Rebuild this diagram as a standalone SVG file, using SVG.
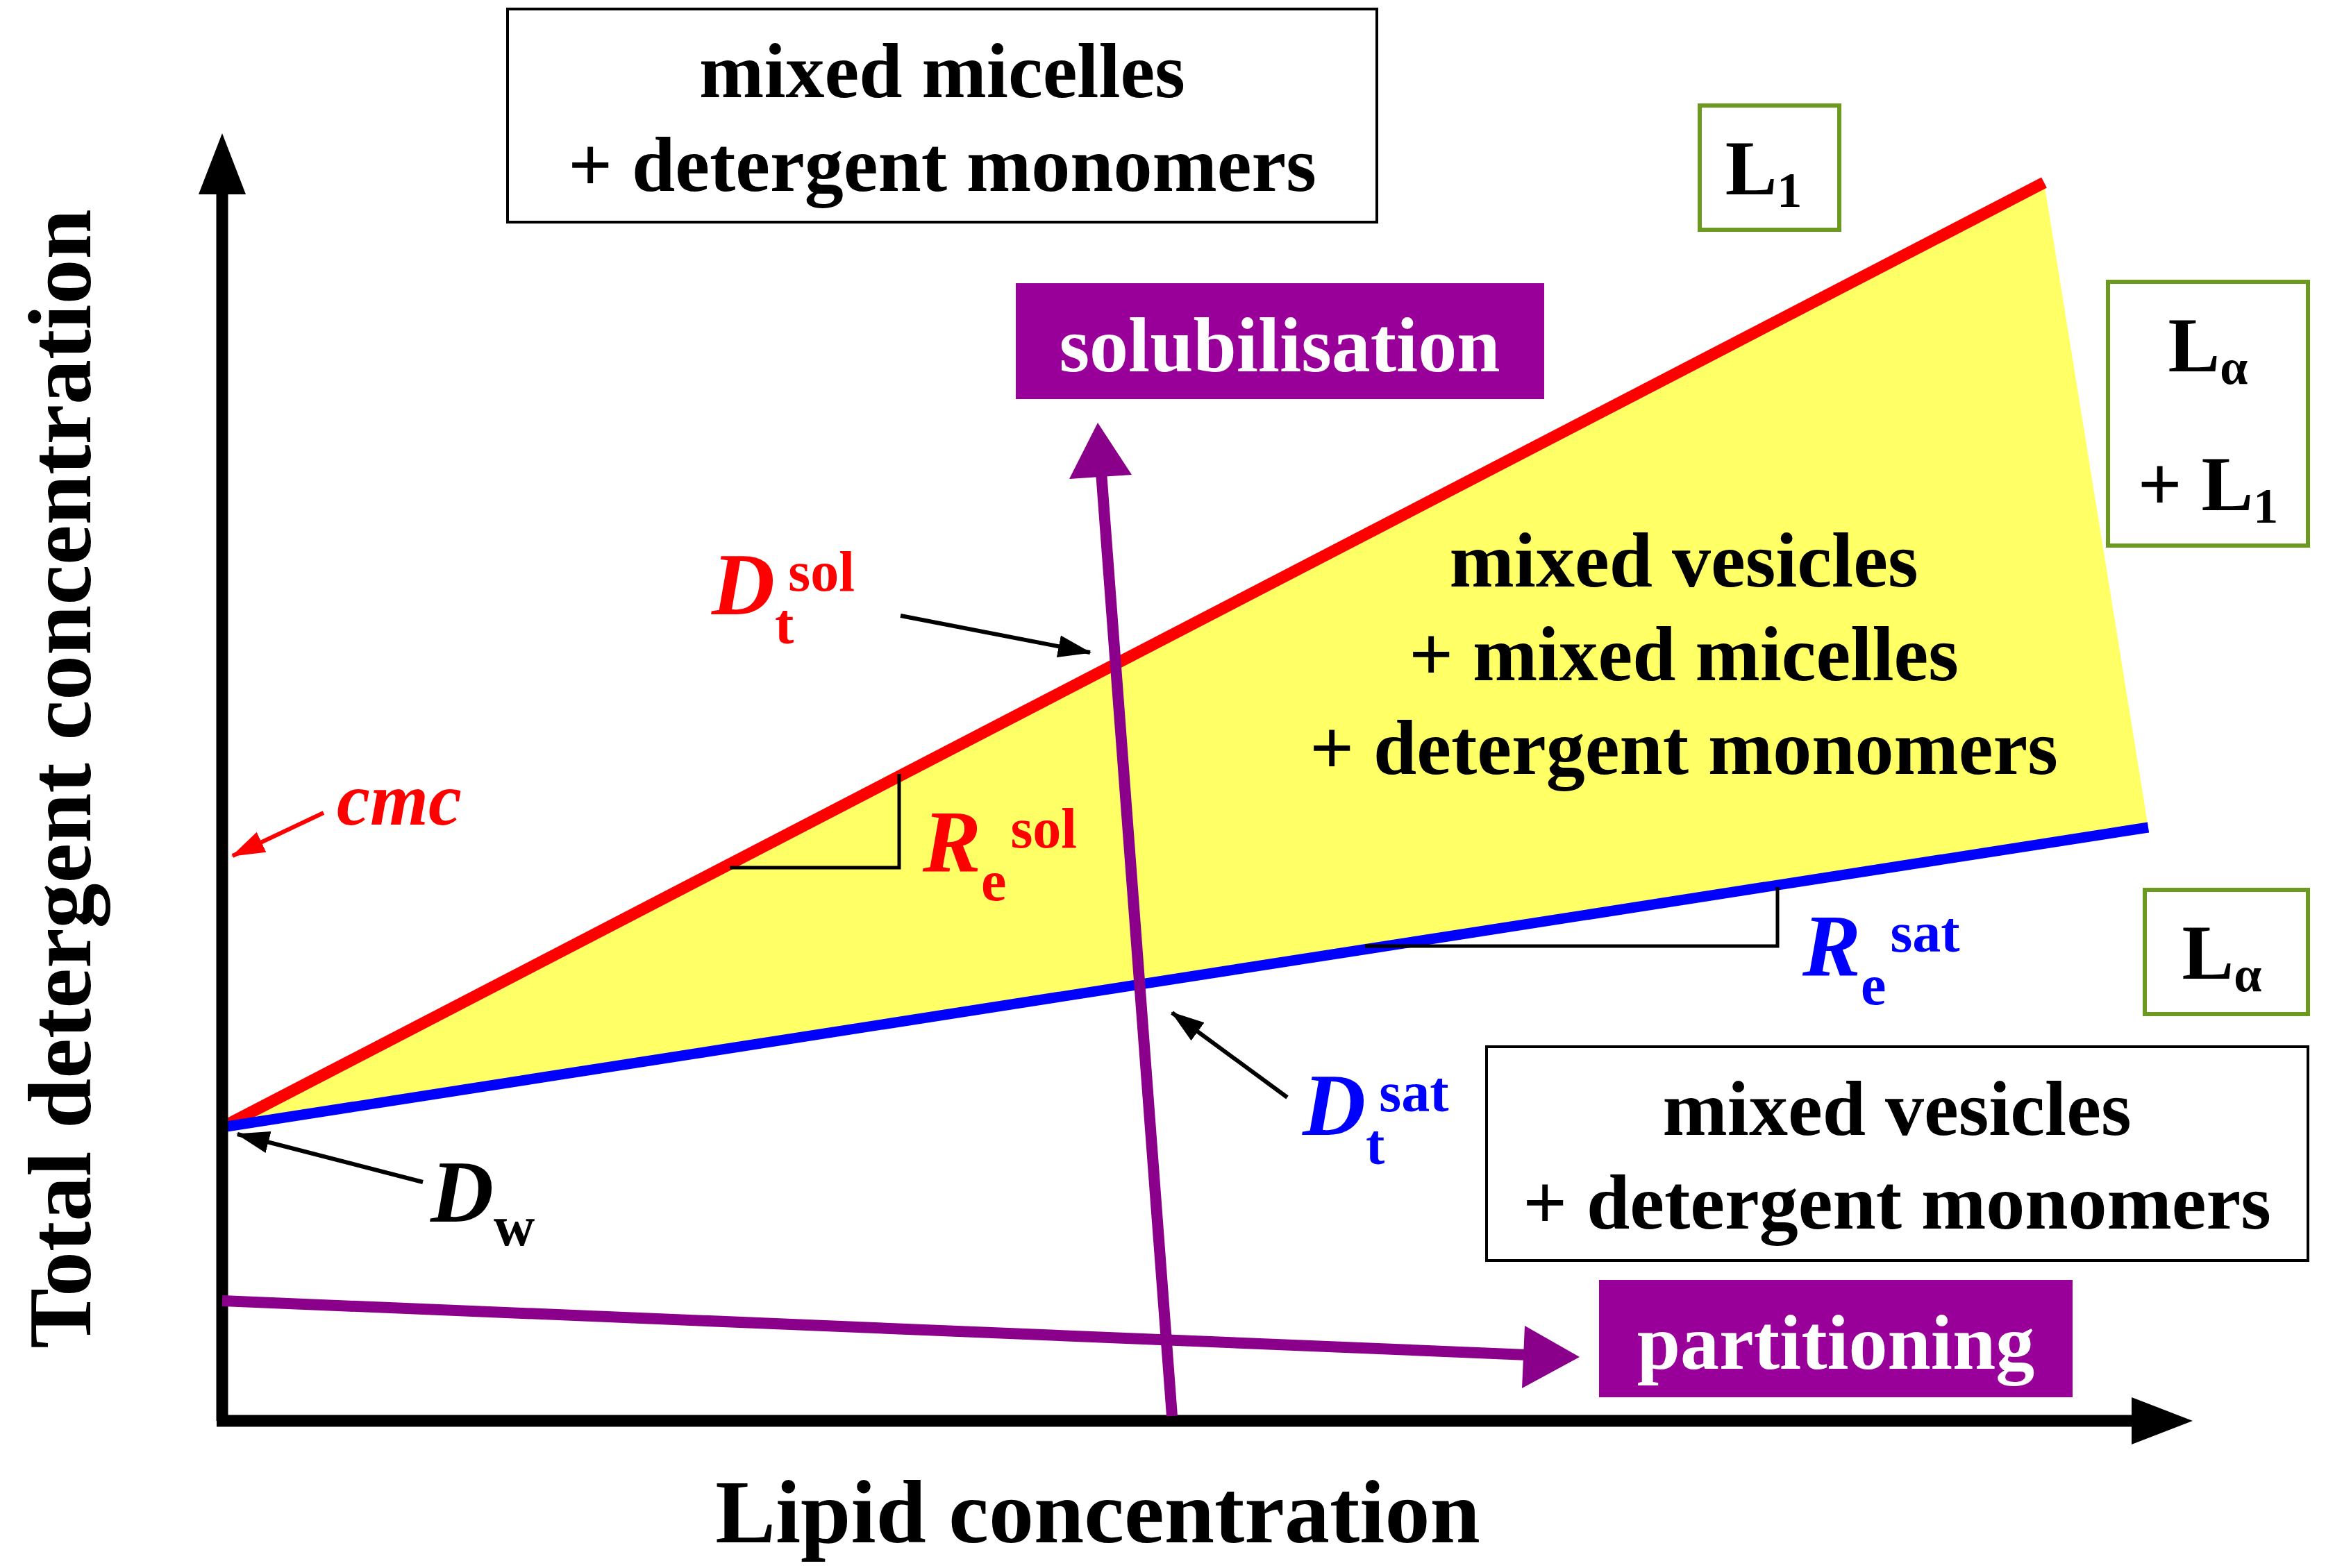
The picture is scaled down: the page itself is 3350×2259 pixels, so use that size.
<svg xmlns="http://www.w3.org/2000/svg" width="3350" height="2259" viewBox="0 0 3350 2259">
<style>
text{font-family:"Liberation Serif","Times New Roman",serif;font-weight:bold}
.t{font-size:112px;fill:#000}
.box{fill:#fff;stroke:#000;stroke-width:4}
.gbox{fill:#fff;stroke:#6b9a1f;stroke-width:6}
.pbox{fill:#990099}
.w{fill:#fff;font-size:112px}
.it{font-style:italic}
</style>
<defs>
<marker id="ah" markerUnits="userSpaceOnUse" markerWidth="50" markerHeight="40" refX="46" refY="20" orient="auto"><path d="M0,4 L48,20 L0,36 Z" fill="#000"/></marker>
<marker id="ahr" markerUnits="userSpaceOnUse" markerWidth="50" markerHeight="40" refX="46" refY="20" orient="auto"><path d="M0,4 L48,20 L0,36 Z" fill="#f00"/></marker>
</defs>
<rect width="3350" height="2259" fill="#fff"/>
<polygon points="320,1624 2944,263 3094,1192" fill="#ffff66"/>
<g id="connectors">
<line x1="320" y1="1624" x2="2944" y2="263" stroke="#f00" stroke-width="17"/>
<line x1="320" y1="1624" x2="3094" y2="1192" stroke="#00f" stroke-width="15"/>
<polyline points="1051,1250 1295,1250 1295,1115" fill="none" stroke="#000" stroke-width="5"/>
<polyline points="1966,1363 2560,1363 2560,1278" fill="none" stroke="#000" stroke-width="5"/>
<line x1="320" y1="2047" x2="320" y2="270" stroke="#000" stroke-width="17"/>
<polygon points="320,192 286,280 354,280" fill="#000"/>
<line x1="312" y1="2047" x2="3080" y2="2047" stroke="#000" stroke-width="17"/>
<polygon points="3158,2047 3070,2013 3070,2081" fill="#000"/>
<line x1="1688" y1="2040" x2="1586" y2="680" stroke="#8b008b" stroke-width="16"/>
<polygon points="1581,609 1540,690 1630,684" fill="#8b008b"/>
<line x1="320" y1="1874" x2="2200" y2="1952" stroke="#8b008b" stroke-width="16"/>
<polygon points="2275,1955 2196,1910 2192,2000" fill="#8b008b"/>
<line x1="1297" y1="887" x2="1570" y2="940" stroke="#000" stroke-width="6" marker-end="url(#ah)"/>
<line x1="1854" y1="1581" x2="1688" y2="1459" stroke="#000" stroke-width="6" marker-end="url(#ah)"/>
<line x1="609" y1="1703" x2="342" y2="1634" stroke="#000" stroke-width="6" marker-end="url(#ah)"/>
<line x1="466" y1="1171" x2="335" y2="1233" stroke="#f00" stroke-width="6" marker-end="url(#ahr)"/>
</g>
<g id="n_micelles"><rect class="box" x="731" y="13" width="1252" height="307"/>
<text class="t" x="1357" y="140" text-anchor="middle">mixed micelles</text>
<text class="t" x="1357" y="275" text-anchor="middle">+ detergent monomers</text></g>
<g id="n_L1"><rect class="gbox" x="2448" y="152" width="201" height="179"/>
<text class="t" x="2540" y="280" text-anchor="middle">L<tspan font-size="72" dy="18">1</tspan></text></g>
<g id="n_LaL1"><rect class="gbox" x="3036" y="406" width="288" height="380"/>
<text class="t" x="3180" y="535" text-anchor="middle">L<tspan font-size="72" dy="18">α</tspan></text>
<text class="t" x="3180" y="735" text-anchor="middle">+ L<tspan font-size="72" dy="18">1</tspan></text></g>
<g id="n_La"><rect class="gbox" x="3089" y="1282" width="235" height="179"/>
<text class="t" x="3200" y="1410" text-anchor="middle">L<tspan font-size="72" dy="18">α</tspan></text></g>
<g id="n_vesmon"><rect class="box" x="2141" y="1508" width="1183" height="308"/>
<text class="t" x="2732" y="1635" text-anchor="middle">mixed vesicles</text>
<text class="t" x="2732" y="1770" text-anchor="middle">+ detergent monomers</text></g>
<g id="n_sol"><rect class="pbox" x="1463" y="408" width="761" height="167"/>
<text class="w" x="1843" y="535" text-anchor="middle">solubilisation</text></g>
<g id="n_part"><rect class="pbox" x="2303" y="1844" width="682" height="169"/>
<text class="w" x="2644" y="1972" text-anchor="middle">partitioning</text></g>
<g id="n_mix"><text class="t" x="2425" y="845" text-anchor="middle">mixed vesicles</text>
<text class="t" x="2425" y="980" text-anchor="middle">+ mixed micelles</text>
<text class="t" x="2425" y="1115" text-anchor="middle">+ detergent monomers</text></g>
<g id="n_dtsol"><text x="1025" y="885" font-size="126" fill="#f00"><tspan class="it">D</tspan><tspan font-size="82" dy="42">t</tspan><tspan font-size="82" dx="-8" dy="-76">sol</tspan></text></g>
<g id="n_resol"><text x="1329" y="1255" font-size="126" fill="#f00"><tspan class="it">R</tspan><tspan font-size="82" dy="42">e</tspan><tspan font-size="82" dx="6" dy="-76">sol</tspan></text></g>
<g id="n_resat"><text x="2596" y="1405" font-size="126" fill="#00f"><tspan class="it">R</tspan><tspan font-size="82" dy="42">e</tspan><tspan font-size="82" dx="6" dy="-76">sat</tspan></text></g>
<g id="n_dtsat"><text x="1876" y="1635" font-size="126" fill="#00f"><tspan class="it">D</tspan><tspan font-size="82" dy="42">t</tspan><tspan font-size="82" dx="-8" dy="-76">sat</tspan></text></g>
<g id="n_dw"><text x="620" y="1760" font-size="126" fill="#000"><tspan class="it">D</tspan><tspan font-size="82" dy="34">w</tspan></text></g>
<g id="n_cmc"><text x="485" y="1188" font-size="108" fill="#f00" font-style="italic">cmc</text></g>
<g id="n_yl"><text x="0" y="0" font-size="130" text-anchor="middle" transform="translate(130,1122) rotate(-90)">Total detergent concentration</text></g>
<g id="n_xl"><text x="1581" y="2222" font-size="130" text-anchor="middle">Lipid concentration</text></g>
</svg>
